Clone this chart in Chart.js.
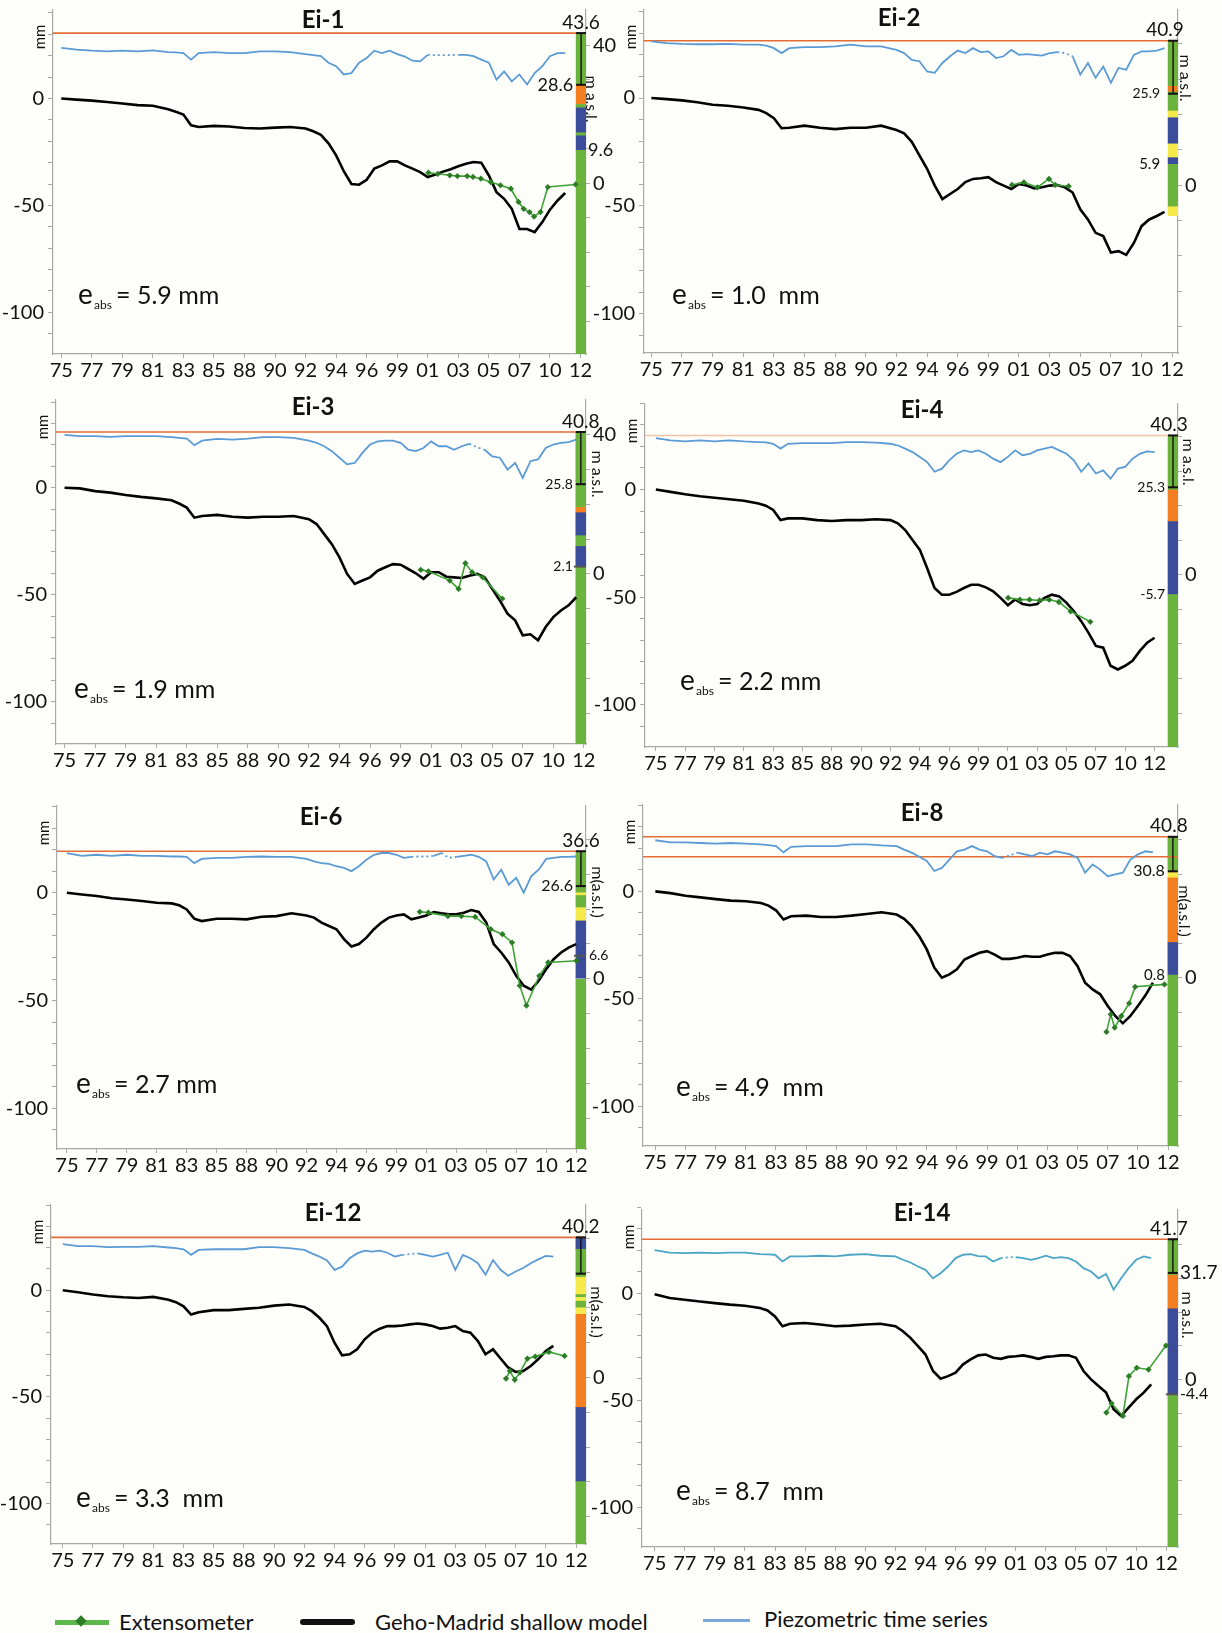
<!DOCTYPE html>
<html><head><meta charset="utf-8">
<script src="https://cdn.jsdelivr.net/npm/chart.js@4.4.0/dist/chart.umd.min.js"></script>
<style>
html,body{margin:0;padding:0;background:#fefefb;}
body{width:1222px;height:1633px;position:relative;overflow:hidden;font-family:Lato,"Open Sans",sans-serif;}
canvas{position:absolute;}
.lg{position:absolute;font-size:22px;color:#111;line-height:1;white-space:nowrap;}
.ln{position:absolute;}
</style></head><body>
<script>
// ---------- DATA ----------
const YEAR_LABELS = ['75','77','79','81','83','85','88','90','92','94','96','99','01','03','05','07','10','12'];
// time positions (in label-index units) shared by the model and piezometric series
const T = [0,0.5,1,1.5,2,2.5,3,3.5, 3.75,4,4.25,4.5, 5,5.5,6,6.5,7,7.5,8,
  8.25,8.5,8.75,9,9.25,9.5,9.75,10, 10.25,10.5,10.75,11,11.25,11.5,11.75,12,
  12.25,12.5,12.75,13,13.25,13.5,13.75,14, 14.25,14.5,14.75,15,15.25,15.5,15.75,16, 16.25,16.5,16.75,17];

const PANEL_NAMES = ['Ei-1','Ei-2','Ei-3','Ei-4','Ei-6','Ei-8','Ei-12','Ei-14'];
const E_ABS = ['= 5.9 mm','= 1.0  mm','= 1.9 mm','= 2.2 mm','= 2.7 mm','= 4.9  mm','= 3.3  mm','= 8.7  mm'];

// Geho-Madrid shallow model (mm)
const MODEL_EI1 = [0,-0.5,-1,-1.6,-2.3,-3.1,-3.4,-5, -6.2,-7.5,-12.5,-13.3, -12.8,-13.1,-13.8,-14,-13.6,-13.3,-14,
  -15.3,-17,-21,-26.6,-34,-40,-40.3,-38, -32.8,-31.3,-29.4,-29.4,-31.3,-32.8,-34.4,-36.7,
  -35.6,-34.2,-33.1,-31.7,-30.5,-29.7,-30,-36, -43.8,-46.9,-51.6,-61,-61,-62.5,-57.8,-52, -47.7,-44.2,null,null];
const MODEL_EI2 = [0,-0.5,-1.1,-2,-3.1,-3.6,-4.4,-5.5, -7,-9.4,-14,-13.8, -12.8,-13.8,-14.4,-13.8,-13.8,-12.8,-14.8,
  -16.4,-20.3,-26.6,-32.8,-40.6,-46.9,-44.5,-42.2, -39,-37.5,-37.2,-36.7,-39,-40.6,-42.2,-39.8,
  -40.6,-41.9,-41.4,-40.6,-40.3,-41.4,-43.8,-51.6, -56.3,-62.5,-64,-71.6,-71,-72.7,-67.2,-59.4, -56.3,-54.7,-52.8,null];
const MODEL_EI3 = [0,-0.3,-1.6,-2.3,-3.4,-4.3,-5,-5.9, -7.4,-9.3,-14,-13.2, -12.7,-13.6,-14,-13.6,-13.6,-13.2,-14.7,
  -17,-21.7,-26.4,-32.6,-40.3,-45,-43.4,-41.9, -38.8,-37.2,-35.7,-36,-38,-40,-42.6,-39.5,
  -39.5,-41.6,-41.9,-42.2,-41.1,-40.3,-41.9,-47.3, -52.7,-58.9,-62,-69,-68.5,-71.3,-65.1,-60.5, -57.4,-55,-51.2,null];
const MODEL_EI4 = [0,-1.1,-2.2,-3.1,-3.8,-4.5,-5.2,-6.5, -7.5,-9.5,-14.2,-13.4, -13.4,-14.2,-14.6,-14.2,-14.2,-13.8,-14.2,
  -15.7,-18.8,-23.4,-28,-36.5,-45.7,-48.8,-48.8, -47.5,-45.7,-44.2,-44.2,-45.4,-47.2,-50.3,-53.7,
  -51,-53.1,-53.7,-53.1,-50.3,-48.8,-49.6,-52.6, -56.5,-61.1,-66.5,-72.6,-73.4,-81.8,-83.5,-81.8, -79.5,-74.9,-71.1,-68.8];
const MODEL_EI6 = [0,-0.8,-1.5,-2.5,-3.1,-3.8,-4.6,-4.9, -5.8,-7.7,-12,-13.1, -12,-12,-12.3,-11.1,-10.8,-9.5,-10.5,
  -11.5,-13.8,-15.4,-16.9,-21.5,-24.9,-23.8,-20.8, -16.9,-13.8,-11.5,-10.5,-10,-12.3,-11.5,-10.5,
  -8.9,-9.5,-10,-10,-9.2,-8,-8.9,-13.8, -23.8,-27.7,-32.3,-38.5,-43.1,-44.9,-40.8,-35.4, -30.8,-27.7,-25.4,-23.8];
const MODEL_EI8 = [0,-0.8,-2,-2.8,-3.6,-4.3,-4.6,-5.4, -6.6,-8.8,-13.1,-11.6, -11.3,-11.9,-11.9,-11.3,-10.5,-9.7,-10.8,
  -12.8,-16.2,-20.9,-27,-35.5,-40.2,-38.6,-36.3, -31.7,-30.1,-28.6,-27.8,-29.4,-31.4,-31.4,-30.9,
  -30.1,-30.4,-30.4,-29.4,-28.6,-28.6,-30.1,-34.8, -42.5,-45.6,-47.9,-53.3,-58,-61.4,-58,-53.3, -48.4,-42.5,null,null];
const MODEL_EI12 = [0,-0.9,-2,-2.8,-3.3,-3.6,-3.1,-4.4, -5.6,-7.5,-11.4,-10.3, -9.3,-9.3,-8.7,-8.2,-7.2,-6.7,-7.8,
  -9.8,-12.9,-16.8,-24.6,-30.5,-30,-27.7,-23, -19.9,-18,-16.8,-16.8,-16.5,-16,-15.6,-16,
  -16.8,-18,-17.6,-16.8,-19.1,-19.9,-23.8,-30, -27.7,-32,-36.2,-38.3,-37.9,-35.5,-32.3,-28.5, -26.1,null,null,null];
const MODEL_EI14 = [-0.5,-2.3,-3.1,-3.9,-4.7,-5.4,-5.9,-7, -8.1,-10.9,-15.5,-14.3, -14,-14.7,-15.5,-15.2,-14.7,-14.3,-15.5,
  -17.8,-20.9,-24.8,-28.7,-36.4,-40,-38.8,-37.2, -33.3,-31,-29.1,-28.7,-30.2,-30.7,-29.8,-29.5,
  -29.1,-29.8,-30.7,-29.8,-29.5,-29.1,-29.1,-30.2, -36.4,-40.3,-43.4,-46.5,-54.3,-57.4,-53.5,-49.6, -46.5,-42.6,null,null];

// Piezometric time series (m a.s.l.)
const PIEZO_EI1 = [39.3,38.8,38.5,38.3,38.5,38.3,38.6,38.1, 38.0,37.8,35.9,37.8, 38.1,37.8,37.8,38.3,38.3,38.1,37.5,
  37.2,36.9,35,34,31.6,32,35,36.4, 38.5,37.8,38.5,37.5,36.8,35.6,35.4,37.3,
  37.2,37.2,37.2,37.3,37.3,36.9,35.9,35, 30.1,32.5,29.6,31.6,28.7,32,34,36.9, 37.8,37.8,null,null];
const PIEZO_EI2 = [40.7,40.2,40,39.9,39.9,40,39.8,39.8, 39.5,38.8,37.4,38.8, 39.1,39.1,39.3,39.8,39.3,39.3,38.3,
  37.4,35.5,35.1,32.2,31.8,34.6,36.5,38.1, 37.4,38.8,37.7,37.9,36,36.5,38.3,36.9,
  37.1,36.9,36.7,37.4,37.7,37.4,36.5,31.3, 34.6,30.4,33.6,29,33.2,32.7,36.9,37.9, 37.9,38.1,38.8,null];
const PIEZO_EI3 = [40,39.6,39.6,39.4,39.6,39.6,39.6,39.3, 39.1,38.9,37,38.3, 38.8,38.6,38.9,39.3,39.3,39.1,38.3,
  37.7,36.7,35.3,33.4,31.5,31.9,34.8,37.2, 38.1,38.3,38.3,37.7,35.7,35.3,36.2,38.1,
  36.7,36.7,35.7,36.7,37.4,36.4,35.7,33.8, 33.4,30,31.9,27.6,32.4,32.9,36.2,37.2, 37.7,37.9,38.6,null];
const PIEZO_EI4 = [39.5,38.9,38.6,38.9,38.6,38.9,38.6,38.4, 38.3,37.9,36.5,37.9, 38.1,38.1,38.1,38.4,38.4,38.2,37.9,
  37.4,36.5,35.5,34.1,32.6,29.8,30.7,33.1, 35,36,35.5,36,35,33.6,32.6,34.1,
  36,34.6,35,36,36.5,37,36,35, 33.1,29.8,32.2,29.3,30.2,27.8,30.7,31.2, 33.6,35,35.7,35.5];
const PIEZO_EI6 = [36.1,35.3,35.6,35.3,35.6,35.3,35.3,35.1, 35.1,35,33.2,34.4, 34.7,34.7,35,35.1,35,35,34.4,
  33.7,33.2,33,32.3,31.8,30.9,32.3,34.2, 35.6,36.1,36.1,35.6,34.7,35,35.1,35.1,
  35.3,36.1,34.7,35,35.3,35.6,35,33.7, 28.5,31.3,27,29,24.7,29.4,31.3,34.4, 34.7,35,35,35.1];
const PIEZO_EI8 = [39.8,39.2,39.2,39,38.8,39,38.8,38.6, 38.4,38.1,36.3,37.9, 38.1,38.1,38.1,38.6,38.6,38.3,38.1,
  37.1,36.2,35,33.8,30.9,31.8,34.2,36.6, 37.1,38.1,37.1,36.6,35.2,34.7,35.4,36.2,
  35.7,35.2,36.2,35.7,36.6,36.2,35.7,34.7, 30.4,32.8,31.3,29.4,29.9,30.4,34.2,35.7, 36.6,36.3,null,null];
const PIEZO_EI12 = [38.3,37.7,37.7,37.4,37.5,37.5,37.7,37.3, 37.1,36.8,35.2,36.6, 36.8,36.8,36.8,37.4,37.4,37.1,36.6,
  35.6,34.7,33.6,30.9,31.8,34.2,35.6,36.4, 36.1,36.4,35.8,34.7,35.2,35.4,35.6,35.2,
  34.7,35.2,35.8,30.9,35.2,34.2,32.8,29.5, 33.7,30.9,29.2,30.4,31.4,32.8,33.9,34.9, 34.7,null,null,null];
const PIEZO_EI14 = [38.5,37.7,37.6,37.7,37.6,37.7,37.7,37.3, 37.2,37.1,35.1,36.6, 36.6,36.8,36.6,37.1,37.3,36.8,36.6,
  35.6,34.8,33.6,32.6,30.1,31.6,33.6,36.1, 37.1,37.3,36.7,36.6,35.1,36.1,36.3,36.4,
  36.1,35.6,36.1,36.8,36.1,36.4,36.1,35.1, 33.1,32.1,30.1,31.4,26.7,30.1,33.1,35.6, 36.6,36.1,null,null];

// Extensometer (time position, mm)
const EXT_T_EI1 = [12.02,12.33,12.72,12.97,13.29,13.48,13.74,14.06,14.38,14.72,14.97,15.14,15.33,15.48,15.69,15.93,16.84];
const EXT_V_EI1 = [-34.7,-35.2,-35.9,-36.3,-36.3,-36.7,-37.5,-39.1,-40.6,-42.2,-48.4,-51.6,-53.1,-55.2,-53.1,-41.4,-40.2];
const EXT_T_EI2 = [11.77,12.16,12.6,12.98,13.18,13.62];
const EXT_V_EI2 = [-40.3,-39.1,-41.4,-37.5,-40.3,-40.9];
const EXT_T_EI3 = [11.66,11.91,12.61,12.9,13.12,13.34,13.69,14.33];
const EXT_V_EI3 = [-38.4,-39.1,-43.4,-47.3,-35.3,-39.5,-41.9,-51.9];
const EXT_T_EI4 = [12.01,12.41,12.74,13.08,13.41,13.74,14.14,14.81];
const EXT_V_EI4 = [-50.3,-51.1,-51.1,-51.5,-51.1,-52.2,-56.5,-61.4];
const EXT_T_EI6 = [11.78,12.07,12.72,13.17,13.63,14.15,14.54,14.86,15.12,15.34,15.77,16.07,17.01];
const EXT_V_EI6 = [-8.8,-9.2,-10.8,-10.8,-11.2,-16.9,-19.2,-23.1,-43.1,-52.3,-38.5,-32.3,-31.5];
const EXT_T_EI8 = [14.96,15.1,15.23,15.45,15.71,15.91,16.88];
const EXT_V_EI8 = [-65.4,-57.2,-63.4,-58,-52.1,-44.4,-43.3];
const EXT_T_EI12 = [14.68,14.81,14.97,15.14,15.39,15.65,16.1,16.62];
const EXT_V_EI12 = [-41.4,-37.8,-42,-38.6,-32,-31.1,-28.9,-30.8];
const EXT_T_EI14 = [15.01,15.18,15.56,15.76,16.02,16.41,16.99];
const EXT_V_EI14 = [-55.8,-51.5,-57.4,-38.8,-34.9,-35.7,-24.5];

// Stratigraphic column (m a.s.l.): top, bottom, lithology kind
const STRAT_TOP_EI1 = [43.6,28.6,22.9,21.9,14.7,13.8,9.6];
const STRAT_BOT_EI1 = [28.6,22.9,21.9,14.7,13.8,9.6,-50];
const STRAT_KIND_EI1 = ['g','o','g','b','g','b','g'];
const STRAT_TOP_EI2 = [40.9,28,26.4,21,19.1,11.7,7.8,5.9,-6.1];
const STRAT_BOT_EI2 = [28,26.4,21,19.1,11.7,7.8,5.9,-6.1,-8.6];
const STRAT_KIND_EI2 = ['g','o','g','y','b','y','b','g','y'];
const STRAT_TOP_EI3 = [40.8,19.1,17.6,11,7.9,2.1];
const STRAT_BOT_EI3 = [19.1,17.6,11,7.9,2.1,-50];
const STRAT_KIND_EI3 = ['g','o','b','g','b','g'];
const STRAT_TOP_EI4 = [40.3,24.5,15.4,-5.7];
const STRAT_BOT_EI4 = [24.5,15.4,-5.7,-50];
const STRAT_KIND_EI4 = ['g','o','b','g'];
const STRAT_TOP_EI6 = [36.6,24.7,23.9,20.4,16.6,0];
const STRAT_BOT_EI6 = [24.7,23.9,20.4,16.6,0,-50];
const STRAT_KIND_EI6 = ['g','y','g','y','b','g'];
const STRAT_TOP_EI8 = [40.8,30.8,28.9,10.2,0.8];
const STRAT_BOT_EI8 = [30.8,28.9,10.2,0.8,-50];
const STRAT_KIND_EI8 = ['g','y','o','b','g'];
const STRAT_TOP_EI12 = [40.2,36.8,28.8,23.8,23,21.9,20,18.1,-8.6,-29.9];
const STRAT_BOT_EI12 = [36.8,28.8,23.8,23,21.9,20,18.1,-8.6,-29.9,-50];
const STRAT_KIND_EI12 = ['b','g','y','g','y','g','y','o','b','g'];
const STRAT_TOP_EI14 = [41.7,31,21,-4.4];
const STRAT_BOT_EI14 = [31,21,-4.4,-50];
const STRAT_KIND_EI14 = ['g','o','b','g'];

// Ground level(s) (orange lines) and well screen (top, bottom), extra markers, labelled elevations
const GROUND = [[43.6],[40.9],[40.8],[40.3],[36.6],[40.8,35.0],[40.2],[41.7]];
const WELL = [[43.6,28.6],[40.9,25.9],[40.8,25.8],[40.3,25.3],[36.6,26.6],[40.8,30.8],[40.2,29.8],[41.7,31.7]];
const MARKS = [[],[],[2.1],[],[6.6],[],[],[-4.4]];
const COL_VALUES = [[43.6,28.6,9.6],[40.9,25.9,5.9],[40.8,25.8,2.1],[40.3,25.3,-5.7],[36.6,26.6,6.6],[40.8,30.8,0.8],[40.2],[41.7,31.7,-4.4]];
const RIGHT_TICK_LABELS = [[40,0],[0],[40,0],[0],[0],[0],[0],[0]];
const MM_TICKS = [-110,-100,-90,-80,-70,-60,-50,-40,-30,-20,-10,0,10,20,30,40];
const MM_TICK_LABELS = [-100,-50,0];
const M_TICKS = [-40,-30,-20,-10,0,10,20,30,40];
// piezometric gaps joined with a dotted line (time-position ranges)
const DOTTED = [[[12,13]],[[13.25,13.75]],[[13.25,13.75]],[],[[11.5,12.25],[12.5,13]],[[11.5,12]],[[11.25,11.75]],[[11.5,12]]];

// ---------- LAYOUT / STYLE ----------
const LAYOUT = [
 {area:[53,8,586,354],  x:[-0.27,17.18], col:17.02, y:[-119.5,41.4], y2:[-49.5,50.3], title:[323,20],  e:[78,304],  unit:[591,99],  unitText:'m a.s.l.',  pos:['top','left','right'], size:[19,18,18], dx:[0,-8,7], gc:'#e36c35', pc:'#5b9bd5'},
 {area:[644,8,1178,353], x:[-0.24,17.19], col:17.03, y:[-118.2,40.8], y2:[-47.5,49.6], title:[899,18], e:[672,304], unit:[1185,78], unitText:'m a.s.l.',  pos:['top','left','left'], size:[19,14,15], dx:[-8,-13,-13], gc:'#e36c35', pc:'#5b9bd5'},
 {area:[56,398,586,744], x:[-0.28,17.07], col:16.9, y:[-119.8,41], y2:[-48.9,50], title:[313,407], e:[74,698], unit:[597,474], unitText:'m a.s.l.', pos:['top','left','left'], size:[19,14,14], dx:[0,-8,-8], gc:'#e36c35', pc:'#5b9bd5'},
 {area:[645,402,1178,747], x:[-0.37,17.8], col:17.63, y:[-119.5,39.7], y2:[-49.8,49.4], title:[922,410], e:[680,690], unit:[1188,462], unitText:'m a.s.l.', pos:['top','left','left'], size:[19,14,14], dx:[-4,-8,-8], gc:'#f2c4a4', pc:'#5b9bd5'},
 {area:[57,804,586,1149], x:[-0.33,17.33], col:17.16, y:[-118.9,40.3], y2:[-48.9,49.6], title:[321,817], e:[76,1093], unit:[597,892], unitText:'m(a.s.l.)', pos:['top','left','right'], size:[19,16,14], dx:[0,-8,8], gc:'#e36c35', pc:'#5b9bd5'},
 {area:[643,803,1178,1146], x:[-0.41,17.33], col:17.16, y:[-118.5,40.2], y2:[-48.7,50], title:[922,813], e:[676,1096], unit:[1184,911], unitText:'m(a.s.l.)', pos:['top','left','left'], size:[19,16,15], dx:[-4,-8,-8], gc:'#e36c35', pc:'#5b9bd5'},
 {area:[51,1203,586,1544], x:[-0.39,17.33], col:17.16, y:[-119,40], y2:[-47.8,49.5], title:[333,1213], e:[76,1507], unit:[596,1312], unitText:'m(a.s.l.)', pos:['top'], size:[19], dx:[0], gc:'#e36c35', pc:'#5b9bd5'},
 {area:[642,1208,1178,1547], x:[-0.42,17.39], col:17.22, y:[-118.6,38.8], y2:[-49.8,50.4], title:[922,1213], e:[676,1500], unit:[1187,1315], unitText:'m a.s.l.', pos:['top','right','right'], size:[19,19,16], dx:[-4,7,7], gc:'#e36c35', pc:'#4aa5c6'}
];
const STRAT_COLORS = {g:'#6cb33e', o:'#f47f20', b:'#3b4c9b', y:'#f5ea4a'};
const EXT_COLOR = '#3da435';
const AXIS_COLOR = '#a8a8a8';
const FONT = 'Lato, "Open Sans", sans-serif';

const MODELS = [MODEL_EI1,MODEL_EI2,MODEL_EI3,MODEL_EI4,MODEL_EI6,MODEL_EI8,MODEL_EI12,MODEL_EI14];
const PIEZOS = [PIEZO_EI1,PIEZO_EI2,PIEZO_EI3,PIEZO_EI4,PIEZO_EI6,PIEZO_EI8,PIEZO_EI12,PIEZO_EI14];
const EXT_TS = [EXT_T_EI1,EXT_T_EI2,EXT_T_EI3,EXT_T_EI4,EXT_T_EI6,EXT_T_EI8,EXT_T_EI12,EXT_T_EI14];
const EXT_VS = [EXT_V_EI1,EXT_V_EI2,EXT_V_EI3,EXT_V_EI4,EXT_V_EI6,EXT_V_EI8,EXT_V_EI12,EXT_V_EI14];
const STRAT_TOPS = [STRAT_TOP_EI1,STRAT_TOP_EI2,STRAT_TOP_EI3,STRAT_TOP_EI4,STRAT_TOP_EI6,STRAT_TOP_EI8,STRAT_TOP_EI12,STRAT_TOP_EI14];
const STRAT_BOTS = [STRAT_BOT_EI1,STRAT_BOT_EI2,STRAT_BOT_EI3,STRAT_BOT_EI4,STRAT_BOT_EI6,STRAT_BOT_EI8,STRAT_BOT_EI12,STRAT_BOT_EI14];
const STRAT_KINDS = [STRAT_KIND_EI1,STRAT_KIND_EI2,STRAT_KIND_EI3,STRAT_KIND_EI4,STRAT_KIND_EI6,STRAT_KIND_EI8,STRAT_KIND_EI12,STRAT_KIND_EI14];

Chart.defaults.font.family = FONT;
Chart.defaults.color = '#111';
Chart.defaults.animation = false;

const PAD_L = 55, PAD_R = 32, PAD_EXTRA = 16, PAD_T = 14, PAD_B = 34;

function overlayPlugin(k, L, cl, ct) {
  return {
    id: 'overlay' + k,
    afterDraw(chart) {
      const ctx = chart.ctx, a = chart.chartArea, sx = chart.scales.x, sy2 = chart.scales.y2;
      ctx.save();
      ctx.fillStyle = '#111';
      ctx.textAlign = 'center'; ctx.textBaseline = 'middle';
      ctx.font = 'bold 24px ' + FONT;
      ctx.fillText(PANEL_NAMES[k], L.title[0] - cl, L.title[1] - ct);
      // mm axis title
      ctx.save(); ctx.translate(a.left - 13, a.top + 27); ctx.rotate(-Math.PI / 2);
      ctx.font = '15px ' + FONT; ctx.fillText('mm', 0, 0); ctx.restore();
      // right axis title
      ctx.save(); ctx.translate(L.unit[0] - cl, L.unit[1] - ct); ctx.rotate(Math.PI / 2);
      ctx.font = '16px ' + FONT; ctx.fillText(L.unitText, 0, 0); ctx.restore();
      // e_abs
      const ex = L.e[0] - cl, ey = L.e[1] - ct;
      ctx.textAlign = 'left'; ctx.textBaseline = 'alphabetic';
      ctx.font = '28px ' + FONT; ctx.fillText('e', ex, ey);
      ctx.font = '12px ' + FONT; ctx.fillText('abs', ex + 16, ey + 5);
      ctx.font = '25px ' + FONT; ctx.fillText(E_ABS[k], ex + 38, ey);
      // column elevation labels
      const cx = sx.getPixelForValue(L.col);
      COL_VALUES[k].forEach((v, i) => {
        const y = sy2.getPixelForValue(v);
        ctx.font = L.size[i] + 'px ' + FONT;
        const t = v.toFixed(1);
        if (L.pos[i] === 'top') { ctx.textAlign = 'center'; ctx.textBaseline = 'bottom'; ctx.fillText(t, cx + L.dx[i], y - 1); }
        else if (L.pos[i] === 'left') { ctx.textAlign = 'right'; ctx.textBaseline = 'middle'; ctx.fillText(t, cx + L.dx[i], y); }
        else { ctx.textAlign = 'left'; ctx.textBaseline = 'middle'; ctx.fillText(t, cx + L.dx[i], y); }
      });
      ctx.restore();
    }
  };
}

LAYOUT.forEach((L, k) => {
  const [l, t, r, b] = L.area;
  const cl = l - PAD_L, ct = t - PAD_T;
  const W = (r - l) + PAD_L + PAD_R + PAD_EXTRA, H = (b - t) + PAD_T + PAD_B;
  const cv = document.createElement('canvas');
  cv.width = W; cv.height = H;
  cv.style.left = cl + 'px'; cv.style.top = ct + 'px';
  cv.style.width = W + 'px'; cv.style.height = H + 'px';
  document.body.appendChild(cv);

  const dotted = DOTTED[k];
  const isDotted = (x0, x1) => dotted.some(([s, e]) => x0 >= s - 1e-6 && x1 <= e + 1e-6);

  const datasets = [];
  // stratigraphic column (floating bars on the m a.s.l. axis)
  datasets.push({
    type: 'bar', yAxisID: 'y2', order: 10,
    data: STRAT_TOPS[k].map((tp, i) => ({x: L.col, y: [STRAT_BOTS[k][i], tp]})),
    backgroundColor: STRAT_KINDS[k].map(c => STRAT_COLORS[c]),
    borderWidth: 0, barThickness: 10
  });
  // ground level lines
  GROUND[k].forEach(g => datasets.push({
    type: 'line', yAxisID: 'y2', order: 5,
    data: [{x: L.x[0], y: g}, {x: L.x[1], y: g}],
    borderColor: L.gc, borderWidth: 1.6, pointRadius: 0
  }));
  // piezometric series
  datasets.push({
    type: 'line', yAxisID: 'y2', order: 3,
    data: T.map((tt, i) => ({x: tt, y: PIEZOS[k][i]})),
    borderColor: L.pc, borderWidth: 1.8, pointRadius: 0, tension: 0,
    segment: { borderDash: c => isDotted(c.p0.parsed.x, c.p1.parsed.x) ? [2, 3] : undefined }
  });
  // model series
  datasets.push({
    type: 'line', yAxisID: 'y', order: 2,
    data: T.map((tt, i) => ({x: tt, y: MODELS[k][i]})),
    borderColor: '#000', borderWidth: 2.6, pointRadius: 0, tension: 0
  });
  // extensometer
  datasets.push({
    type: 'line', yAxisID: 'y', order: 1,
    data: EXT_TS[k].map((tt, i) => ({x: tt, y: EXT_VS[k][i]})),
    borderColor: EXT_COLOR, borderWidth: 1.6, pointRadius: 2, pointStyle: 'rectRot',
    pointBackgroundColor: '#2d7d27', pointBorderColor: '#2d7d27', tension: 0
  });
  // well screen bar
  datasets.push({
    type: 'line', yAxisID: 'y2', order: 0,
    data: WELL[k].map(v => ({x: L.col, y: v})),
    borderColor: '#111', borderWidth: 1.4, pointStyle: 'line', pointRadius: 5,
    pointBorderColor: '#111', pointBorderWidth: 2
  });
  if (MARKS[k].length) datasets.push({
    type: 'line', yAxisID: 'y2', order: 0, showLine: false,
    data: MARKS[k].map(v => ({x: L.col, y: v})),
    pointStyle: 'line', pointRadius: 7, pointBorderColor: '#555', pointBorderWidth: 2
  });

  new Chart(cv, {
    type: 'line',
    data: { datasets },
    options: {
      responsive: false, maintainAspectRatio: false, devicePixelRatio: 1,
      layout: { padding: { left: 0, right: PAD_EXTRA, top: PAD_T, bottom: 0 } },
      plugins: { legend: { display: false }, tooltip: { enabled: false } },
      scales: {
        x: {
          type: 'linear', min: L.x[0], max: L.x[1], offset: false,
          afterBuildTicks: s => { s.ticks = YEAR_LABELS.map((_, i) => ({value: i})); },
          afterFit: s => { s.height = PAD_B; },
          ticks: { callback: v => YEAR_LABELS[v], autoSkip: false, maxRotation: 0, padding: 1, font: {size: 20}, color: '#111' },
          grid: { offset: false, drawOnChartArea: false, drawTicks: true, tickLength: 4, color: AXIS_COLOR },
          border: { color: AXIS_COLOR, width: 1.2 }
        },
        y: {
          type: 'linear', position: 'left', min: L.y[0], max: L.y[1],
          afterFit: s => { s.width = PAD_L; },
          afterBuildTicks: s => { s.ticks = MM_TICKS.map(v => ({value: v})); },
          ticks: { autoSkip: false, callback: v => (MM_TICK_LABELS.includes(v) ? String(v) : ''), padding: 4, font: {size: 20}, color: '#111' },
          grid: { drawOnChartArea: false, drawTicks: true, tickLength: 5, color: AXIS_COLOR },
          border: { color: AXIS_COLOR, width: 1.2 }
        },
        y2: {
          type: 'linear', position: 'right', min: L.y2[0], max: L.y2[1], beginAtZero: false,
          afterFit: s => { s.width = PAD_R; },
          afterBuildTicks: s => { s.ticks = M_TICKS.map(v => ({value: v})); },
          ticks: { autoSkip: false, callback: v => (RIGHT_TICK_LABELS[k].includes(v) ? String(v) : ''), padding: 3, font: {size: 20}, color: '#111' },
          grid: { drawOnChartArea: false, drawTicks: true, tickLength: 4, color: AXIS_COLOR },
          border: { color: AXIS_COLOR, width: 1.2 }
        }
      }
    },
    plugins: [overlayPlugin(k, L, cl, ct)]
  });
});
</script>

<!-- legend -->
<div class="ln" style="left:55px;top:1620px;width:54px;height:5px;background:#5cb84a;"></div>
<div class="ln" style="left:77px;top:1617px;width:8px;height:8px;background:#2d7d27;transform:rotate(45deg);"></div>
<div class="lg" style="left:119px;top:1611px;">Extensometer</div>
<div class="ln" style="left:300px;top:1619px;width:55px;height:6px;background:#111;border-radius:3px;"></div>
<div class="lg" style="left:375px;top:1611px;">Geho-Madrid shallow model</div>
<div class="ln" style="left:703px;top:1619px;width:47px;height:3px;background:#7aa7d8;"></div>
<div class="lg" style="left:764px;top:1608px;">Piezometric time series</div>
</body></html>
